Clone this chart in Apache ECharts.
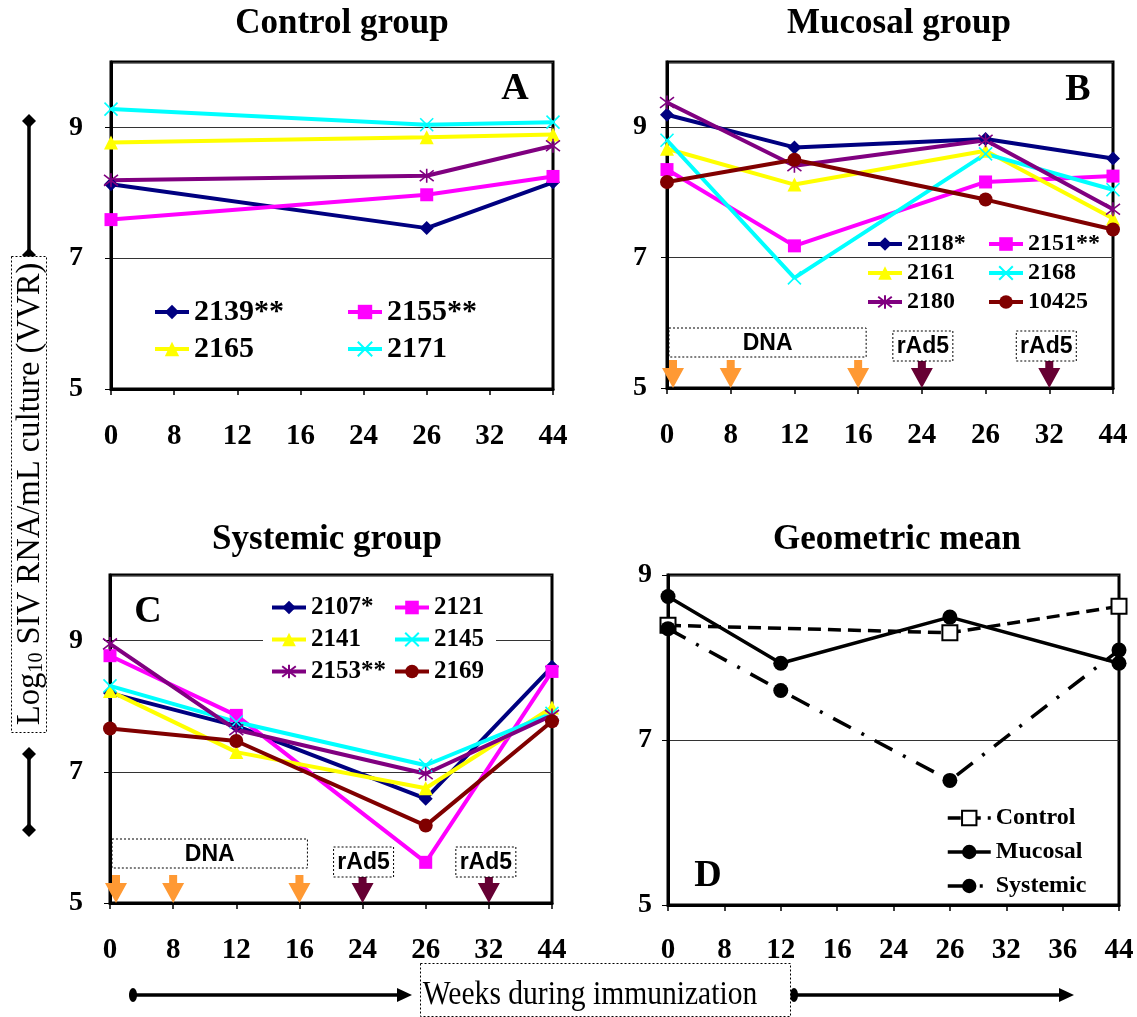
<!DOCTYPE html>
<html>
<head>
<meta charset="utf-8">
<script src="https://cdn.jsdelivr.net/npm/echarts@6/dist/echarts.min.js"></script>
<style>
  html, body { margin: 0; padding: 0; background: #fff; }
  #chart { width: 1137px; height: 1017px; }
</style>
</head>
<body>
<div id="chart"></div>
<script>
// ---- Sampling weeks (category axes) ----
const weeksABC = ['0', '8', '12', '16', '24', '26', '32', '44'];
const weeksD   = ['0', '8', '12', '16', '24', '26', '32', '36', '44'];

// ---- A: Control group (log10 VVR) ----
const c2139  = [8.13, null, null, null, null, 7.46, null, 8.16];
const c2155  = [7.59, null, null, null, null, 7.97, null, 8.25];
const c2165  = [8.77, null, null, null, null, 8.85, null, 8.89];
const c2171  = [9.28, null, null, null, null, 9.04, null, 9.08];
const cOther = [8.19, null, null, null, null, 8.26, null, 8.72];

// ---- B: Mucosal group ----
const m2118  = [9.19, null, 8.69, null, null, 8.82, null, 8.52];
const m2151  = [8.35, null, 7.18, null, null, 8.16, null, 8.25];
const m2161  = [8.67, null, 8.12, null, null, 8.64, null, 7.60];
const m2168  = [8.80, null, 6.69, null, null, 8.59, null, 8.04];
const m2180  = [9.38, null, 8.41, null, null, 8.80, null, 7.74];
const m10425 = [8.16, null, 8.50, null, null, 7.89, null, 7.43];

// ---- C: Systemic group ----
const s2107 = [8.20, null, 7.70, null, null, 6.59, null, 8.60];
const s2121 = [8.77, null, 7.86, null, null, 5.62, null, 8.53];
const s2141 = [8.23, null, 7.30, null, null, 6.75, null, 7.98];
const s2145 = [8.31, null, 7.76, null, null, 7.10, null, 7.89];
const s2153 = [8.95, null, 7.64, null, null, 6.97, null, 7.86];
const s2169 = [7.66, null, 7.47, null, null, 6.18, null, 7.77];

// ---- D: Geometric means ----
const gControl  = [8.39, null, null, null, null, 8.30, null, null, 8.62];
const gMucosal  = [8.74, null, 7.93, null, null, 8.49, null, null, 7.93];
const gSystemic = [8.35, null, 7.60, null, null, 6.51, null, null, 8.09];

// ---- Immunization schedule ----
const dnaWeeks  = ['0', '8', '16'];
const rAd5Weeks = ['24', '32'];

// ---- Axis ranges ----
const yMin = 5, yMaxABC = 10, yMaxD = 9, yStep = 2;

const SERIF = '"Liberation Serif", "Times New Roman", serif';
const SANS = '"Liberation Sans", Arial, sans-serif';

const X_PATH = 'path://M0,0L10,10M10,0L0,10';
const STAR_PATH = 'path://M0,0L10,10M10,0L0,10M5,-1.5L5,11.5';
const ARROW_PATH = 'path://M7,0L15,0L15,8L22,8L11,28L0,8L7,8Z';

const STY = {
  navy:    { color: '#000080', symbol: 'diamond',  size: 14 },
  magenta: { color: '#FF00FF', symbol: 'rect',     size: 13 },
  yellow:  { color: '#FFFF00', symbol: 'triangle', size: 14 },
  cyan:    { color: '#00FFFF', symbol: X_PATH,     size: 13, stroke: true },
  purple:  { color: '#800080', symbol: STAR_PATH,  size: 14, stroke: true },
  maroon:  { color: '#800000', symbol: 'circle',   size: 14 }
};

function lineSeries(name, data, idx, s, extra) {
  return Object.assign({
    type: 'line', name: name, data: data,
    xAxisIndex: idx, yAxisIndex: idx,
    connectNulls: true, clip: false, animation: false,
    symbol: s.symbol, symbolSize: s.size, showAllSymbol: true,
    lineStyle: { color: s.color, width: 4 },
    itemStyle: {
      color: s.color,
      borderColor: s.color,
      borderWidth: s.stroke ? 1.6 : 0
    },
    emphasis: { disabled: true }
  }, extra || {});
}

function arrowSeries(idx, weeks, color, cats) {
  return {
    type: 'scatter', xAxisIndex: idx, yAxisIndex: idx,
    silent: true, clip: false, animation: false, z: 1,
    symbol: ARROW_PATH, symbolSize: [22, 28],
    itemStyle: { color: color, opacity: 1 },
    emphasis: { disabled: true },
    // first arrow nudged right so it stays inside the frame
    data: weeks.map(w => ({
      value: [w, yMin],
      symbolOffset: [w === cats[0] ? 6 : 0, '-50%']
    }))
  };
}

const grids = [
  { left: 111, top: 62, width: 442, height: 327 },
  { left: 667, top: 62, width: 446, height: 326 },
  { left: 110, top: 575, width: 442, height: 328 },
  { left: 668, top: 575, width: 451, height: 330 }
].map(g => Object.assign(g, { show: true, borderColor: '#000', borderWidth: 3, backgroundColor: '#fff' }));

function xAxis(idx, cats, margin) {
  return {
    type: 'category', gridIndex: idx, data: cats, boundaryGap: false,
    axisLine: { show: true, lineStyle: { color: '#000', width: 3 } },
    axisTick: { show: true, length: 6, inside: false, alignWithLabel: true, interval: 0, lineStyle: { color: '#000', width: 1.5 } },
    axisLabel: { interval: 0, margin: margin, color: '#000', fontFamily: SERIF, fontWeight: 'bold', fontSize: 29 },
    splitLine: { show: false }
  };
}
function yAxis(idx, max, margin) {
  return {
    type: 'value', gridIndex: idx, min: yMin, max: max, interval: yStep,
    axisLine: { show: true, lineStyle: { color: '#000', width: 3 } },
    axisTick: { show: true, length: 6, lineStyle: { color: '#000', width: 1 } },
    axisLabel: { margin: margin, color: '#000', fontFamily: SERIF, fontWeight: 'bold', fontSize: 28,
                 showMaxLabel: max === yMaxD, showMinLabel: true },
    splitLine: { show: true, lineStyle: { color: '#333', width: 1 } }
  };
}

function legend(left, top, names, opts) {
  return Object.assign({
    left: left, top: top, orient: 'vertical', padding: 0,
    itemWidth: 34, itemHeight: 17, itemGap: 6, selectedMode: false,
    data: names, lineStyle: { width: 4 },
    textStyle: { fontFamily: SERIF, fontWeight: 'bold', fontSize: 24, color: '#000' }
  }, opts || {});
}

const series = [
  // A
  lineSeries('2139**', c2139, 0, STY.navy),
  lineSeries('2155**', c2155, 0, STY.magenta),
  lineSeries('2165', c2165, 0, STY.yellow),
  lineSeries('2171', c2171, 0, STY.cyan),
  lineSeries('control-other', cOther, 0, STY.purple),
  // B
  lineSeries('2118*', m2118, 1, STY.navy),
  lineSeries('2151**', m2151, 1, STY.magenta),
  lineSeries('2161', m2161, 1, STY.yellow),
  lineSeries('2168', m2168, 1, STY.cyan),
  lineSeries('2180', m2180, 1, STY.purple),
  lineSeries('10425', m10425, 1, STY.maroon),
  arrowSeries(1, dnaWeeks, '#FF9933', weeksABC),
  arrowSeries(1, rAd5Weeks, '#660033', weeksABC),
  // C
  lineSeries('2107*', s2107, 2, STY.navy),
  lineSeries('2121', s2121, 2, STY.magenta),
  lineSeries('2141', s2141, 2, STY.yellow),
  lineSeries('2145', s2145, 2, STY.cyan),
  lineSeries('2153**', s2153, 2, STY.purple),
  lineSeries('2169', s2169, 2, STY.maroon),
  arrowSeries(2, dnaWeeks, '#FF9933', weeksABC),
  arrowSeries(2, rAd5Weeks, '#660033', weeksABC),
  // D
  lineSeries('Control', gControl, 3, { color: '#000', symbol: 'emptyRect', size: 15 },
    { lineStyle: { color: '#000', width: 3.5, type: [13, 7] },
      itemStyle: { color: '#000', borderColor: '#000', borderWidth: 1.5 } }),
  lineSeries('Mucosal', gMucosal, 3, { color: '#000', symbol: 'circle', size: 15 },
    { lineStyle: { color: '#000', width: 3.5 } }),
  lineSeries('Systemic', gSystemic, 3, { color: '#000', symbol: 'circle', size: 15 },
    { lineStyle: { color: '#000', width: 3.5, type: [20, 12, 3, 12] } })
];

const chart = echarts.init(document.getElementById('chart'), null, { renderer: 'canvas' });

chart.setOption({
  animation: false,
  backgroundColor: '#fff',
  grid: grids,
  xAxis: [xAxis(0, weeksABC, 33), xAxis(1, weeksABC, 33), xAxis(2, weeksABC, 33), xAxis(3, weeksD, 31)],
  yAxis: [yAxis(0, yMaxABC, 28), yAxis(1, yMaxABC, 20), yAxis(2, yMaxABC, 27), yAxis(3, yMaxD, 16)],
  legend: [
    legend(153, 297, ['2139**', '2165'], { itemGap: 7, itemHeight: 18, textStyle: { fontFamily: SERIF, fontWeight: 'bold', fontSize: 30, color: '#000' } }),
    legend(346, 297, ['2155**', '2171'], { itemGap: 7, itemHeight: 18, textStyle: { fontFamily: SERIF, fontWeight: 'bold', fontSize: 30, color: '#000' } }),
    legend(866, 232, ['2118*', '2161', '2180'], { itemGap: 5 }),
    legend(987, 232, ['2151**', '2168', '10425'], { itemGap: 5 }),
    legend(263, 592, ['2107*', '2141', '2153**'], { itemGap: 7, padding: [3, 8, 3, 7], backgroundColor: '#fff',
      textStyle: { fontFamily: SERIF, fontWeight: 'bold', fontSize: 25, color: '#000' } }),
    legend(388, 592, ['2121', '2145', '2169'], { itemGap: 7, padding: [3, 12, 3, 5], backgroundColor: '#fff',
      textStyle: { fontFamily: SERIF, fontWeight: 'bold', fontSize: 25, color: '#000' } }),
    legend(946, 806, ['Control', 'Mucosal', 'Systemic'], { itemWidth: 43, itemHeight: 18, itemGap: 10, lineStyle: { width: 3.5 } })
  ],
  series: series
});

// ---- Annotations: titles, panel letters, schedule boxes, axis captions ----
function txt(text, x, y, font, extra) {
  return Object.assign({
    type: 'text', x: x, y: y, z: 50, silent: true,
    style: { text: text, font: font, fill: '#000', align: 'center', verticalAlign: 'middle',
             textAlign: 'center', textVerticalAlign: 'middle' }
  }, extra || {});
}
function dottedBox(x, y, w, h, label) {
  return [
    { type: 'rect', z: 40, silent: true, shape: { x: x, y: y, width: w, height: h },
      style: { fill: '#fff', stroke: '#000', lineWidth: 1, lineDash: [2, 2] } },
    txt(label, x + w / 2, y + h / 2 + 1, 'bold 23px ' + SANS, { z: 41 })
  ];
}
function px(idx, cat, v) {
  return chart.convertToPixel({ xAxisIndex: idx, yAxisIndex: idx }, [weeksABC.indexOf(cat), v]);
}
function scheduleBoxes(idx, dnaTop, rTop) {
  const p0 = px(idx, dnaWeeks[0], yMin);
  const pEnd = px(idx, dnaWeeks[dnaWeeks.length - 1], yMin);
  let out = dottedBox(p0[0] + 2, p0[1] + dnaTop, pEnd[0] + 8 - (p0[0] + 2), 29, 'DNA');
  rAd5Weeks.forEach((w, i) => {
    const p = px(idx, w, yMin);
    out = out.concat(dottedBox(p[0] - 30 + (i ? -3 : 1), p[1] + rTop, 60, 30, 'rAd5'));
  });
  return out;
}

const TITLE_FONT = 'bold 35px ' + SERIF;
const LETTER_FONT = 'bold 38px ' + SERIF;

let gfx = [
  txt('Control group', 342, 24, TITLE_FONT),
  txt('Mucosal group', 899, 24, TITLE_FONT),
  txt('Systemic group', 327, 540, TITLE_FONT),
  txt('Geometric mean', 897, 540, TITLE_FONT),
  txt('A', 515, 89, LETTER_FONT),
  txt('B', 1078, 90, LETTER_FONT),
  txt('C', 148, 612, LETTER_FONT),
  txt('D', 708, 876, LETTER_FONT)
];
gfx = gfx.concat(scheduleBoxes(1, -60, -57), scheduleBoxes(2, -64, -56));

// vertical caption with bracket arrows
function diamond(cx, cy, r) {
  return { type: 'polygon', z: 30, silent: true, shape: { points: [[cx, cy - r], [cx + r, cy], [cx, cy + r], [cx - r, cy]] }, style: { fill: '#000' } };
}
function vBar(x, y1, y2) {
  return [
    { type: 'line', z: 30, silent: true, shape: { x1: x, y1: y1, x2: x, y2: y2 }, style: { stroke: '#000', lineWidth: 3.5 } },
    diamond(x, y1, 7), diamond(x, y2, 7)
  ];
}
gfx = gfx.concat(vBar(29, 121, 255), vBar(29, 754, 830));
gfx.push({ type: 'rect', z: 30, silent: true, shape: { x: 11.5, y: 256.5, width: 35, height: 476 },
           style: { fill: '#fff', stroke: '#000', lineWidth: 1, lineDash: [2, 2] } });
gfx.push({
  type: 'text', z: 31, silent: true, x: 30, y: 494, rotation: Math.PI / 2, scaleX: 0.96,
  style: {
    text: '{n|Log}{s|10}{n| SIV RNA/mL culture (VVR)}',
    align: 'center', verticalAlign: 'middle', textAlign: 'center', textVerticalAlign: 'middle',
    fill: '#000',
    rich: {
      n: { fontFamily: SERIF, fontSize: 34, fill: '#000' },
      s: { fontFamily: SERIF, fontSize: 21, fill: '#000', verticalAlign: 'bottom' }
    }
  }
});

// horizontal caption with arrows
function hArrow(x1, x2, y) {
  return [
    { type: 'line', z: 30, silent: true, shape: { x1: x1, y1: y, x2: x2 - 12, y2: y }, style: { stroke: '#000', lineWidth: 3.5 } },
    { type: 'ellipse', z: 30, silent: true, shape: { cx: x1, cy: y, rx: 4, ry: 7 }, style: { fill: '#000' } },
    { type: 'polygon', z: 30, silent: true, shape: { points: [[x2 - 15, y - 7], [x2, y], [x2 - 15, y + 7]] }, style: { fill: '#000' } }
  ];
}
gfx = gfx.concat(hArrow(133, 412, 995), hArrow(794, 1074, 995));
gfx.push({ type: 'rect', z: 30, silent: true, shape: { x: 420.5, y: 963.5, width: 370, height: 53 },
           style: { fill: '#fff', stroke: '#000', lineWidth: 1, lineDash: [2, 2] } });
gfx.push({
  type: 'text', z: 31, silent: true, x: 590, y: 995, scaleX: 0.87,
  style: { text: 'Weeks during immunization', font: '34px ' + SERIF, fill: '#000',
           align: 'center', verticalAlign: 'middle', textAlign: 'center', textVerticalAlign: 'middle' }
});

chart.setOption({ graphic: gfx });
</script>
</body>
</html>
